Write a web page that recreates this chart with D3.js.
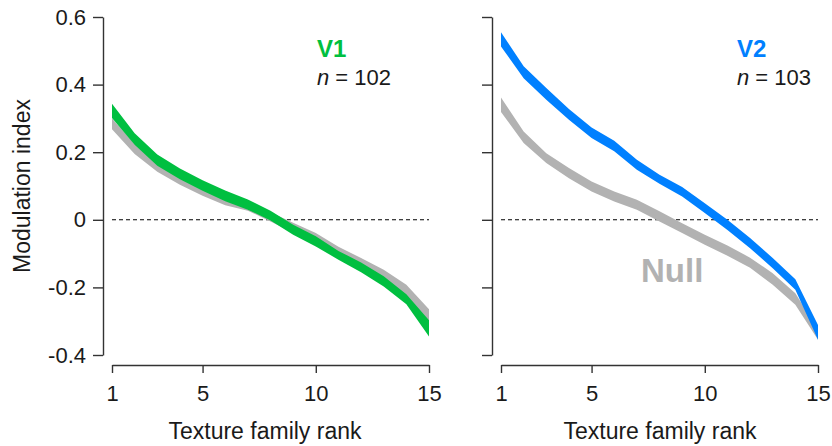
<!DOCTYPE html>
<html>
<head>
<meta charset="utf-8">
<script src="https://cdn.jsdelivr.net/npm/d3@7"></script>
<style>
  html, body { margin: 0; padding: 0; background: #fff; }
  svg { display: block; font-family: "Liberation Sans", Arial, Helvetica, sans-serif; }
</style>
</head>
<body>
<svg id="chart" width="832" height="446"></svg>
<script>
// Texture family rank (1 = strongest modulation)
const ranks = [1, 2, 3, 4, 5, 6, 7, 8, 9, 10, 11, 12, 13, 14, 15];

// V1 modulation index band (lower / upper bound)
const v1Lower = [0.301, 0.222, 0.160, 0.120, 0.086, 0.055, 0.030, -0.002, -0.044, -0.079, -0.118, -0.155, -0.197, -0.250, -0.345];
const v1Upper = [0.343, 0.256, 0.193, 0.152, 0.117, 0.087, 0.060, 0.027, -0.015, -0.049, -0.092, -0.126, -0.167, -0.220, -0.297];

// Null distribution for the V1 population
const v1NullLower = [0.268, 0.195, 0.142, 0.104, 0.071, 0.043, 0.027, -0.005, -0.038, -0.069, -0.110, -0.143, -0.180, -0.225, -0.300];
const v1NullUpper = [0.300, 0.225, 0.172, 0.133, 0.099, 0.070, 0.054, 0.022, -0.009, -0.039, -0.080, -0.113, -0.148, -0.192, -0.265];

// V2 modulation index band (lower / upper bound)
const v2Lower = [0.513, 0.419, 0.355, 0.296, 0.242, 0.203, 0.148, 0.107, 0.069, 0.020, -0.030, -0.084, -0.143, -0.207, -0.355];
const v2Upper = [0.555, 0.454, 0.390, 0.328, 0.273, 0.234, 0.178, 0.133, 0.097, 0.049, 0.000, -0.054, -0.113, -0.176, -0.311];

// Null distribution for the V2 population
const v2NullLower = [0.319, 0.227, 0.168, 0.123, 0.084, 0.054, 0.030, -0.005, -0.039, -0.074, -0.106, -0.142, -0.192, -0.251, -0.355];
const v2NullUpper = [0.362, 0.261, 0.197, 0.153, 0.113, 0.084, 0.059, 0.025, -0.010, -0.044, -0.076, -0.112, -0.158, -0.217, -0.325];

const yTicks = [-0.4, -0.2, 0, 0.2, 0.4, 0.6];
const xTicks = [1, 5, 10, 15];

const GREEN = "#00bf40";
const BLUE = "#0080ff";
const GRAY = "#b2b2b2";
const AXIS = "#333";
const TEXT = "#1a1a1a";

const svg = d3.select("#chart");

const y = d3.scaleLinear().domain([-0.4, 0.6]).range([355, 17]);

const panels = [
  { yAxisX: 103, xRange: [112, 429], showLabels: true,
    nullLo: v1NullLower, nullHi: v1NullUpper, lo: v1Lower, hi: v1Upper,
    color: GREEN, name: "V1", n: "102", labelX: 317, titleX: 265 },
  { yAxisX: 492, xRange: [501, 818], showLabels: false,
    nullLo: v2NullLower, nullHi: v2NullUpper, lo: v2Lower, hi: v2Upper,
    color: BLUE, name: "V2", n: "103", labelX: 737, titleX: 660 }
];

panels.forEach(p => {
  const x = d3.scaleLinear().domain([1, 15]).range(p.xRange);
  const g = svg.append("g");

  // y axis
  const yAxis = d3.axisLeft(y)
    .tickValues(yTicks)
    .tickSize(10)
    .tickSizeOuter(0)
    .tickPadding(7)
    .tickFormat(d => p.showLabels ? (d === 0 ? "0" : String(d)) : "");
  const ya = g.append("g").attr("transform", `translate(${p.yAxisX},0)`).call(yAxis);

  // x axis, offset below the plotting area
  const xAxis = d3.axisBottom(x)
    .tickValues(xTicks)
    .tickSize(8)
    .tickSizeOuter(0)
    .tickPadding(12)
    .tickFormat(d3.format("d"));
  const xa = g.append("g").attr("transform", "translate(0,365)").call(xAxis);

  [ya, xa].forEach(a => {
    a.selectAll("path, line").attr("stroke", AXIS).attr("stroke-width", 1.4);
    a.selectAll("text").attr("fill", TEXT).attr("font-size", 22)
      .attr("font-family", "'Liberation Sans', Arial, sans-serif");
  });

  // zero reference
  g.append("line")
    .attr("x1", x(1)).attr("x2", x(15))
    .attr("y1", y(0)).attr("y2", y(0))
    .attr("stroke", "#000").attr("stroke-width", 1.1)
    .attr("stroke-dasharray", "4,3");

  const area = (lo, hi) => d3.area()
    .x((d, i) => x(ranks[i]))
    .y0((d, i) => y(lo[i]))
    .y1((d, i) => y(hi[i]))(ranks);

  g.append("path").attr("d", area(p.nullLo, p.nullHi)).attr("fill", GRAY);
  g.append("path").attr("d", area(p.lo, p.hi)).attr("fill", p.color);

  // area label and sample size
  g.append("text").attr("x", p.labelX).attr("y", 57)
    .attr("font-size", 24).attr("font-weight", "bold").attr("fill", p.color)
    .text(p.name);
  const nt = g.append("text").attr("x", p.labelX).attr("y", 85)
    .attr("font-size", 22).attr("fill", TEXT);
  nt.append("tspan").attr("font-style", "italic").text("n");
  nt.append("tspan").text(" = " + p.n);

  // x axis title
  g.append("text").attr("x", p.titleX).attr("y", 439)
    .attr("text-anchor", "middle").attr("font-size", 23).attr("fill", TEXT)
    .text("Texture family rank");
});

// y axis title
svg.append("text")
  .attr("transform", "translate(30,186) rotate(-90)")
  .attr("text-anchor", "middle").attr("font-size", 23).attr("fill", TEXT)
  .text("Modulation index");

// null label
svg.append("text").attr("x", 641).attr("y", 282)
  .attr("font-size", 33).attr("font-weight", "bold").attr("fill", GRAY)
  .text("Null");
</script>
</body>
</html>
